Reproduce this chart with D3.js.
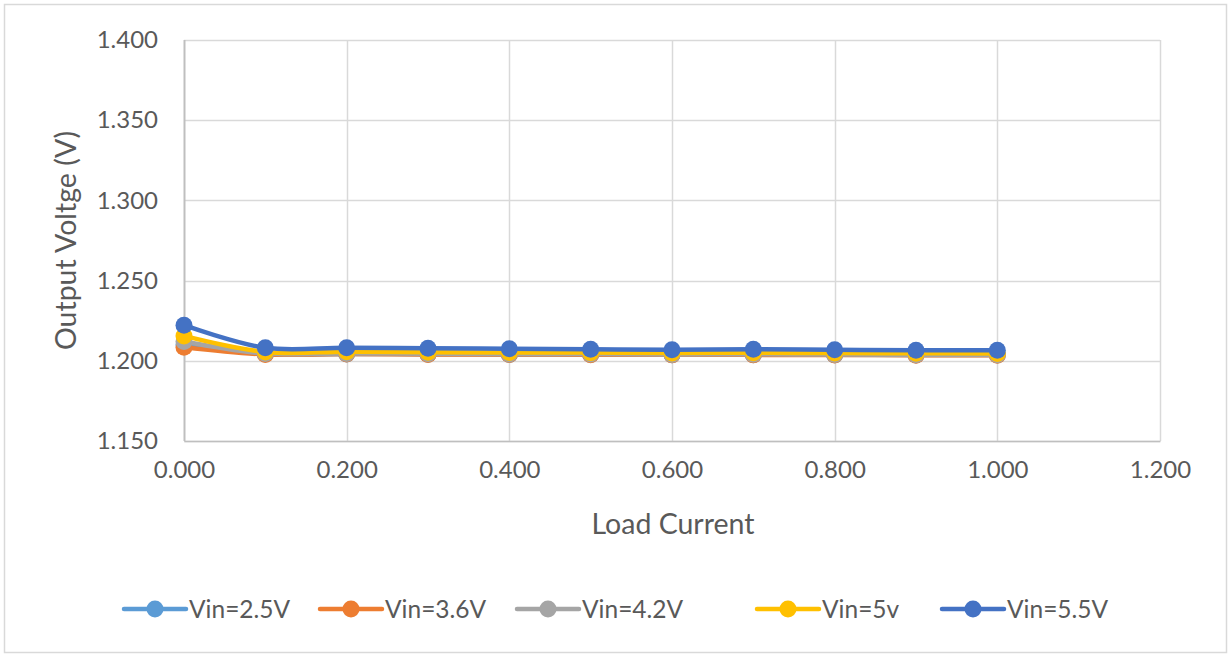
<!DOCTYPE html>
<html>
<head>
<meta charset="utf-8">
<script src="https://cdn.jsdelivr.net/npm/d3@7"></script>
<style>
  body { margin: 0; background: #fff; }
  text { font-family: Lato, "Open Sans", sans-serif; fill: #595959; }
</style>
</head>
<body>
<svg id="chart" width="1231" height="657"></svg>
<script>
const width = 1231;
const height = 657;

// load current (A)
const loadCurrent = [0, 0.1, 0.2, 0.3, 0.4, 0.5, 0.6, 0.7, 0.8, 0.9, 1.0];

// output voltage per input voltage
const vin25 = [1.2100, 1.2042, 1.2043, 1.2041, 1.2040, 1.2039, 1.2038, 1.2038, 1.2037, 1.2036, 1.2036];
const vin36 = [1.2085, 1.2040, 1.2042, 1.2040, 1.2039, 1.2038, 1.2037, 1.2037, 1.2036, 1.2035, 1.2034];
const vin42 = [1.2120, 1.2045, 1.2046, 1.2044, 1.2043, 1.2042, 1.2040, 1.2041, 1.2039, 1.2038, 1.2038];
const vin5  = [1.2155, 1.2055, 1.2057, 1.2054, 1.2052, 1.2051, 1.2049, 1.2050, 1.2048, 1.2047, 1.2046];
const vin55 = [1.2222, 1.2081, 1.2082, 1.2078, 1.2075, 1.2072, 1.2069, 1.2072, 1.2069, 1.2066, 1.2066];

const seriesNames = ["Vin=2.5V", "Vin=3.6V", "Vin=4.2V", "Vin=5v", "Vin=5.5V"];
const seriesColors = ["#5B9BD5", "#ED7D31", "#A5A5A5", "#FFC000", "#4472C4"];
const seriesValues = [vin25, vin36, vin42, vin5, vin55];

const xTicks = [0, 0.2, 0.4, 0.6, 0.8, 1.0, 1.2];
const yTicks = [1.15, 1.2, 1.25, 1.3, 1.35, 1.4];

const margin = {left: 184, right: 71, top: 40, bottom: 216};

const svg = d3.select("#chart");

// outer chart border
svg.append("rect")
  .attr("x", 4.5).attr("y", 4.5)
  .attr("width", width - 9).attr("height", height - 9)
  .attr("fill", "#fff")
  .attr("stroke", "#d9d9d9")
  .attr("stroke-width", 1.5);

const x = d3.scaleLinear()
  .domain([0, 1.2])
  .range([margin.left, width - margin.right]);

const y = d3.scaleLinear()
  .domain([1.15, 1.4])
  .range([height - margin.bottom, margin.top]);

// grid
svg.append("g")
  .selectAll("line")
  .data(yTicks).enter()
  .append("line")
    .attr("x1", x(0)).attr("x2", x(1.2))
    .attr("y1", d => Math.round(y(d)) + 0.5)
    .attr("y2", d => Math.round(y(d)) + 0.5)
    .attr("stroke", "#d9d9d9")
    .attr("stroke-width", 1.5);

svg.append("g")
  .selectAll("line")
  .data(xTicks).enter()
  .append("line")
    .attr("y1", y(1.15)).attr("y2", y(1.4))
    .attr("x1", d => Math.round(x(d)) + 0.5)
    .attr("x2", d => Math.round(x(d)) + 0.5)
    .attr("stroke", d => d === 0 ? "#bfbfbf" : "#d9d9d9")
    .attr("stroke-width", d => d === 0 ? 2 : 1.5);

// axes
const yAxis = svg.append("g")
  .attr("transform", `translate(${margin.left},0)`)
  .call(d3.axisLeft(y).tickValues(yTicks).tickFormat(d3.format(".3f")).tickSize(0).tickPadding(26));
yAxis.select(".domain").remove();
yAxis.selectAll("text")
  .style("font-family", "Lato, 'Open Sans', sans-serif")
  .style("font-size", "24px")
  .attr("fill", "#595959");

const xAxis = svg.append("g")
  .attr("transform", `translate(0,${height - margin.bottom})`)
  .call(d3.axisBottom(x).tickValues(xTicks).tickFormat(d3.format(".3f")).tickSize(0).tickPadding(20));
xAxis.select(".domain")
  .attr("stroke", "#bfbfbf")
  .attr("stroke-width", 1.5);
xAxis.selectAll("text")
  .style("font-family", "Lato, 'Open Sans', sans-serif")
  .style("font-size", "24px")
  .attr("fill", "#595959");

// axis titles
svg.append("text")
  .attr("x", 673)
  .attr("y", 534)
  .attr("text-anchor", "middle")
  .style("font-size", "28.5px")
  .text("Load Current");

svg.append("text")
  .attr("transform", `translate(76, ${(y(1.15) + y(1.4)) / 2}) rotate(-90)`)
  .attr("text-anchor", "middle")
  .style("font-size", "28.5px")
  .text("Output Voltge (V)");

// series
const line = d3.line()
  .x((d, i) => x(loadCurrent[i]))
  .y(d => y(d))
  .curve(d3.curveCatmullRom.alpha(0.5));

seriesValues.forEach((vals, si) => {
  const g = svg.append("g");
  g.append("path")
    .attr("d", line(vals))
    .attr("fill", "none")
    .attr("stroke", seriesColors[si])
    .attr("stroke-width", 4.5)
    .attr("stroke-linejoin", "round")
    .attr("stroke-linecap", "round");
  g.selectAll("circle")
    .data(vals).enter()
    .append("circle")
      .attr("cx", (d, i) => x(loadCurrent[i]))
      .attr("cy", d => y(d))
      .attr("r", 8.5)
      .attr("fill", seriesColors[si]);
});

// legend
const legendX = [124, 320, 517, 757, 942];
const legendY = 609;
const legend = svg.append("g");
seriesNames.forEach((name, i) => {
  const lg = legend.append("g").attr("transform", `translate(${legendX[i]},${legendY})`);
  lg.append("line")
    .attr("x1", 0).attr("x2", 62)
    .attr("y1", 0).attr("y2", 0)
    .attr("stroke", seriesColors[i])
    .attr("stroke-width", 4.5)
    .attr("stroke-linecap", "round");
  lg.append("circle")
    .attr("cx", 31).attr("cy", 0).attr("r", 8.5)
    .attr("fill", seriesColors[i]);
  lg.append("text")
    .attr("x", 65).attr("y", 0)
    .attr("dy", "0.35em")
    .style("font-size", "24.5px")
    .text(name);
});
</script>
</body>
</html>
